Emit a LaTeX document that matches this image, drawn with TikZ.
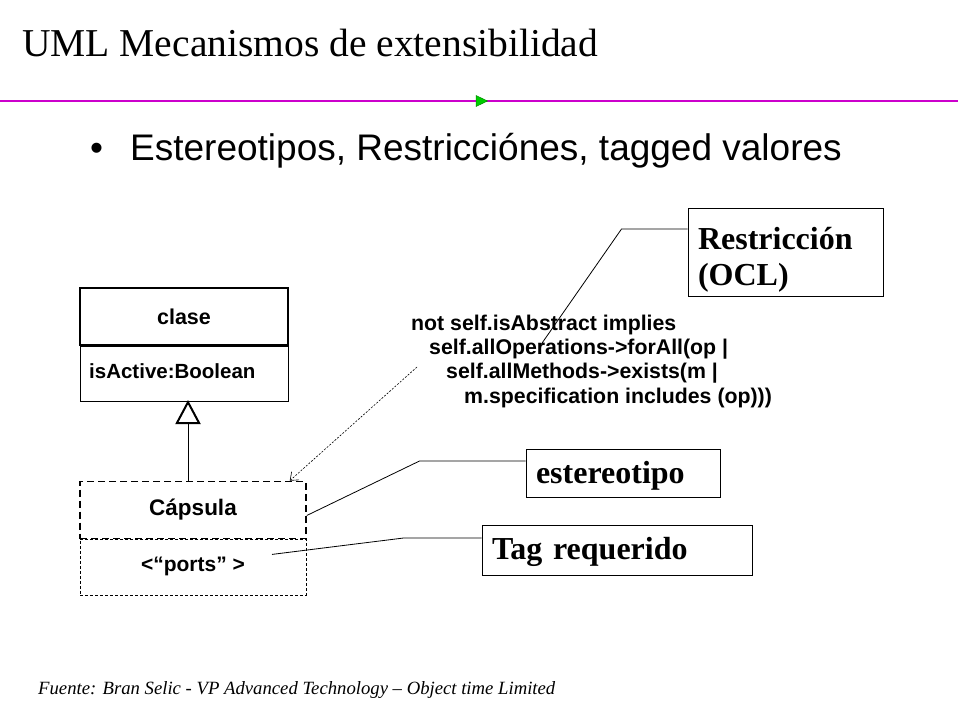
\documentclass[tikz,border=0pt]{standalone}
\usepackage{fontspec}
\setmainfont{Liberation Serif}
\setsansfont{Liberation Sans}
\usetikzlibrary{arrows.meta}
\definecolor{slidemagenta}{RGB}{204,0,204}
\definecolor{slidegreen}{RGB}{0,204,0}

\begin{document}
\begin{tikzpicture}[x=1pt,y=-1pt,
  comp/.style={draw,inner sep=0pt,font=\sffamily\bfseries\fontsize{21.5}{24}\selectfont},
  ocl/.style={anchor=base west,inner sep=0pt,font=\sffamily\bfseries\fontsize{21.3}{24}\selectfont},
  tag/.style={draw,line width=1pt,align=left,inner xsep=10pt,inner ysep=0pt,font=\bfseries\fontsize{32}{36}\selectfont},
  lead/.style={line width=0.8pt}]
  \useasboundingbox (0,0) rectangle (960,720);
  \node[anchor=base west,inner sep=0pt,font=\fontsize{39.5}{44}\selectfont] (title) at (22,56) {UML Mecanismos de extensibilidad};
  \coordinate (rl) at (0,101);
  \coordinate (rr) at (958,101);
  \draw[draw=slidemagenta,line width=1.4pt] (rl) to (rr);
  \filldraw[fill=slidegreen,draw=slidegreen!70!black,line width=0.5pt] (476,95.5) -- (487.5,101) -- (476,106.5) -- cycle;
  \node[anchor=base west,inner sep=0pt,font=\sffamily\fontsize{37}{40}\selectfont] (dot) at (90,160) {•};
  \node[anchor=base west,inner sep=0pt,font=\sffamily\fontsize{37}{40}\selectfont] (items) at (130,160) {Estereotipos, Restricciónes, tagged valores};

  \node[comp,line width=1.8pt,minimum width=208pt,minimum height=57pt] (clase) at (184,316.5) {clase};
  \node[comp,line width=1pt,anchor=north,minimum width=208pt,minimum height=55pt] (attr) at (clase.south) {};
  \node[ocl,font=\sffamily\bfseries\fontsize{20.5}{24}\selectfont] (isact) at (89,378) {isActive:Boolean};
  \node[comp,line width=1.5pt,dash pattern=on 7pt off 4pt,minimum width=226pt,minimum height=57pt,font=\sffamily\bfseries\fontsize{22.5}{24}\selectfont] (caps) at (193,510) {Cápsula};
  \node[comp,line width=0.8pt,dash pattern=on 3pt off 2pt,anchor=north,minimum width=226pt,minimum height=56pt,font=\sffamily\bfseries\fontsize{21}{24}\selectfont] (ports) at (193,538.5) {<“ports” >};
  \coordinate (genb) at (188,481.5);
  \coordinate (gent) at (188,400);
  \draw[line width=1pt,-{Triangle[open,length=24pt,width=25pt,line width=2pt]}] (genb) to (gent);

  \node[ocl] (ocla) at (411,330) {not self.isAbstract implies};
  \node[ocl] (oclb) at (429,354) {self.allOperations->forAll(op |};
  \node[ocl] (oclc) at (446,378) {self.allMethods->exists(m |};
  \node[ocl] (ocld) at (464,403) {m.specification includes (op)))};
  \draw[line width=0.6pt,dash pattern=on 2pt off 1.5pt,-{Straight Barb[length=7pt,width=11pt]}] ([xshift=-29pt,yshift=11pt]oclc.base west) to ([xshift=-17pt]caps.north east);

  \node[tag,minimum width=195pt,minimum height=88pt,text width=175pt] (restr) at (785.5,252) {\rule{0pt}{38pt}Restricción\\(OCL)};
  \node[tag,minimum width=194pt,minimum height=48pt,text width=174pt] (ester) at (623,473) {\rule{0pt}{27pt}estereotipo};
  \node[tag,minimum width=270pt,minimum height=50pt,text width=250pt] (tagreq) at (617,550) {\rule{0pt}{27pt}Tag requerido};
  \draw[lead] ([yshift=23pt]restr.west) -- ++(-66pt,0) to ([xshift=111pt,yshift=8pt]oclb.base west);
  \draw[lead] ([yshift=12pt]ester.west) -- ++(-106pt,0) to ([yshift=-5.5pt]caps.east);
  \draw[lead] ([yshift=12pt]tagreq.west) -- ++(-78pt,0) to ([xshift=79pt,yshift=12.5pt]ports.center);

  \node[anchor=base west,inner sep=0pt,font=\itshape\fontsize{18.7}{20}\selectfont] (src) at (38,694) {Fuente: Bran Selic - VP Advanced Technology – Object time Limited};
\end{tikzpicture}
\end{document}
